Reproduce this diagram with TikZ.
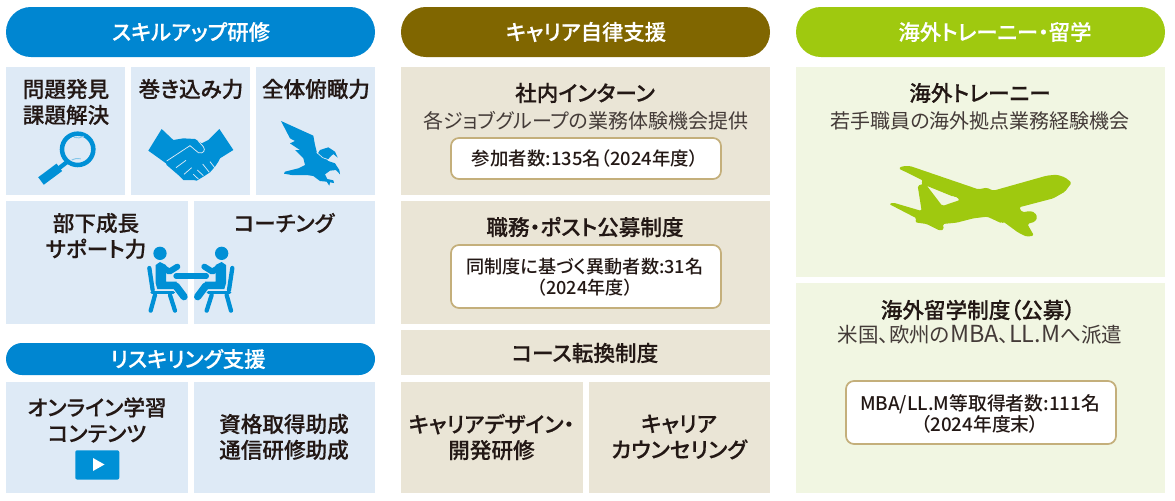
\documentclass[tikz,border=0pt]{standalone}
\usepackage{fontspec}
\setmainfont{Noto Sans CJK JP}[RawFeature=+palt]
\newfontfamily\jpmed{Noto Sans CJK JP Medium}[RawFeature=+palt]
\newfontfamily\jpstrong{Noto Sans CJK JP Medium}[RawFeature=+palt,FakeBold=0.25]
\definecolor{bluepill}{HTML}{0086D1}
\definecolor{bluebg}{HTML}{DEEAF6}
\definecolor{brownpill}{HTML}{806600}
\definecolor{tanbg}{HTML}{EAE5D6}
\definecolor{greenpill}{HTML}{9FC90F}
\definecolor{greenbg}{HTML}{F1F6E2}
\definecolor{frame}{HTML}{C4AF7B}
\definecolor{ink}{HTML}{231815}
\definecolor{iconblue}{HTML}{0090D6}
\tikzset{
  panel/.style={rectangle,inner sep=0pt,outer sep=0pt,fill=#1},
  pill/.style={rectangle,inner sep=0pt,outer sep=0pt},
  countbox/.style={rectangle,rounded corners=6pt,inner sep=0pt,outer sep=0pt,fill=white,draw=frame,line width=1.3pt},
  headtext/.style={text=white,font=\fontsize{16}{19}\jpstrong,inner sep=0pt},
  title/.style={text=ink,align=center,inner sep=0pt,font=\fontsize{16.2}{19.4}\jpstrong},
  sub/.style={text=ink!85,align=center,inner sep=0pt,font=\fontsize{15}{19}\selectfont},
  count/.style={text=ink,align=center,inner sep=0pt,font=\fontsize{#1}{16}\jpmed},
  count/.default=13.6,
}
\newcommand\panelbox[6]{%
  \pgfmathsetmacro\pw{(#5-#3)*.75}\pgfmathsetmacro\ph{(#6-#4)*.75}%
  \node[#1,anchor=north west,minimum width=\pw pt,minimum height=\ph pt] (#2) at (#3,#4) {};}
\begin{document}
\begin{tikzpicture}[x=.75pt,y=-.75pt]
\useasboundingbox (0,0) rectangle (1175,500);
\fill[white] (0,0) rectangle (1175,500);
% headers
\panelbox{pill,fill=bluepill,rounded corners=18.7pt}{hA}{6}{7}{375}{57}
\panelbox{pill,fill=brownpill,rounded corners=18.7pt}{hB}{401}{7}{770}{57}
\panelbox{pill,fill=greenpill,rounded corners=18.7pt}{hC}{796}{7}{1165}{57}
\panelbox{pill,fill=bluepill,rounded corners=12pt}{hD}{6}{343}{375}{375}
\node[headtext] (tA) at (191,32) {スキルアップ研修};
\node[headtext] (tB) at (586,32) {キャリア自律支援};
\node[headtext] (tC) at (995,32) {海外トレーニー・留学};
\node[headtext] (tD) at (188,359) {リスキリング支援};
% left panels
\panelbox{panel=bluebg}{a1}{6}{67}{125}{195}
\panelbox{panel=bluebg}{a2}{131}{67}{250}{195}
\panelbox{panel=bluebg}{a3}{256}{67}{375}{195}
\panelbox{panel=bluebg}{a4}{6}{201}{188}{324}
\panelbox{panel=bluebg}{a5}{194}{201}{375}{324}
\panelbox{panel=bluebg}{a6}{6}{382}{188}{493}
\panelbox{panel=bluebg}{a7}{194}{382}{375}{493}
% middle panels
\panelbox{panel=tanbg}{b1}{401}{67}{770}{195}
\panelbox{panel=tanbg}{b2}{401}{201}{770}{324}
\panelbox{panel=tanbg}{b3}{401}{330}{770}{375}
\panelbox{panel=tanbg}{b4}{401}{382}{583}{493}
\panelbox{panel=tanbg}{b5}{589}{382}{770}{493}
% right panels
\panelbox{panel=greenbg}{c1}{796}{67}{1165}{277}
\panelbox{panel=greenbg}{c2}{796}{283}{1165}{493}
% count boxes
\panelbox{countbox}{k1}{451}{138}{721}{179}
\panelbox{countbox}{k2}{451}{245}{721}{308}
\panelbox{countbox}{k3}{846}{381}{1116}{444}
% left text
\node[title] (n1) at (66,102) {問題発見\\課題解決};
\node[title] (n2) at (191,89) {巻き込み力};
\node[title] (n3) at (316,89) {全体俯瞰力};
\node[title] (n4) at (96,236) {部下成長\\サポート力};
\node[title] (n5) at (284,223) {コーチング};
\node[title] (n6) at (97,420) {オンライン学習\\コンテンツ};
\node[title] (n7) at (284,437) {資格取得助成\\通信研修助成};
% middle text
\node[title] (m1) at (585,93) {社内インターン};
\node[sub] (m2) at (586,121) {各ジョブグループの業務体験機会提供};
\node[count=13.8] (m3) at (585,159) {参加者数:135名（2024年度）};
\node[title] (m4) at (585,227) {職務・ポスト公募制度};
\node[count] (m5) at (585,277) {同制度に基づく異動者数:31名\\（2024年度）};
\node[title] (m6) at (585,353) {コース転換制度};
\node[title] (m7) at (491.5,437) {キャリアデザイン・\\開発研修};
\node[title] (m8) at (679,437) {キャリア\\カウンセリング};
% right text
\node[title] (r1) at (980,93) {海外トレーニー};
\node[sub] (r2) at (980,121) {若手職員の海外拠点業務経験機会};
\node[title] (r3) at (978,310) {海外留学制度（公募）};
\node[sub,font=\fontsize{15.4}{19}\selectfont] (r4) at (980,335) {米国、欧州の{\fontsize{17.6}{19}\selectfont MBA}、{\fontsize{17.6}{19}\selectfont LL.M}へ派遣};
\node[count=14.1] (r5) at (980,414) {MBA/LL.M等取得者数:111名\\（2024年度末）};
% play button
\node[rectangle,rounded corners=1.5pt,fill=iconblue,inner sep=0pt,anchor=north west,minimum width=33pt,minimum height=22pt] (play) at (75,450) {};
\fill[white] (93,458) -- (93,471) -- (104.5,464.5) -- cycle;
% magnifier
\begin{scope}[shift={(0,60)},x=.25pt,y=-.25pt]
\draw[iconblue,line width=3.4pt] (233,268) circle (47);
\draw[bluebg!60!iconblue,line width=.7pt] (222,232) arc (108:60:36);
\draw[bluebg!60!iconblue,line width=.7pt] (215,300) arc (240:285:36);
\draw[iconblue,line width=3.2pt] (205,303) -- (170,330);
\draw[iconblue,line width=7pt] (178,322) -- (123,363);
\end{scope}
% handshake
\begin{scope}[shift={(140,115)},x=.25pt,y=-.25pt]
\fill[iconblue] (65,42) -- (100,75) -- (130,70) -- (165,72) -- (185,85) -- (205,75) -- (238,42) -- (280,105) -- (240,130) -- (235,140) -- (225,155) -- (210,172) -- (190,185) -- (170,197) -- (160,195) -- (130,195) -- (115,180) -- (80,150) -- (78,145) -- (25,107) -- cycle;
\draw[bluebg,line width=.55pt] (80,138) -- (150,92) -- (175,113) .. controls (190,118) and (198,105) .. (190,95) -- (175,78);
\draw[bluebg,line width=.55pt] (108,158) -- (138,136);
\draw[bluebg,line width=.55pt] (132,178) -- (155,158);
\draw[bluebg,line width=.55pt] (160,178) -- (175,192) (172,165) -- (190,182) (188,147) -- (208,172) (210,140) -- (224,158);
\end{scope}
% eagle
\begin{scope}[shift={(270,115)},x=.25pt,y=-.25pt]
\fill[iconblue] (33,18) -- (130,62) -- (135,90) -- (142,118) -- (150,105) -- (175,97) -- (195,110) -- (203,128) -- (190,117) -- (178,128) -- (172,137) -- (195,145) -- (208,165) -- (210,178) -- (198,165) -- (180,167) -- (165,178) -- (172,192) -- (190,196) -- (192,204) -- (180,202) -- (178,212) -- (170,200) -- (150,198) -- (130,183) -- (110,180) -- (65,180) -- (42,176) -- (45,170) -- (85,160) -- (105,150) -- (100,130) -- (75,105) -- (90,105) -- (60,85) -- (75,78) -- (60,70) -- cycle;
\draw[bluebg,line width=.5pt] (140,112) -- (158,128) -- (178,135);
\end{scope}
% people
\begin{scope}[shift={(140,240)},x=.25pt,y=-.25pt]
\foreach \mx/\ox in {1/0,-1/305}{
  \begin{scope}[shift={(\ox,0)},xscale=\mx]
  \fill[iconblue] (60,40) circle (20);
  \fill[iconblue] (47,75) -- (60,66) -- (78,75) -- (78,125) -- (110,125) -- (110,147) -- (52,147) -- (47,130) -- cycle;
  \draw[iconblue,line width=4.5pt,line cap=round,line join=round] (65,80) -- (88,95) -- (112,80);
  \draw[iconblue,line width=5.5pt,line cap=round] (108,138) -- (132,170);
  \draw[iconblue,line width=3.2pt,line cap=round] (28,84) -- (38,150);
  \draw[iconblue,line width=2.6pt,line cap=round] (36,158) -- (100,158);
  \draw[iconblue,line width=3.2pt,line cap=round] (45,165) -- (32,212);
  \draw[iconblue,line width=3.2pt,line cap=round] (90,165) -- (105,212);
  \end{scope}
}
\draw[iconblue,line width=4pt,line cap=round] (108,108) -- (199,108);
\end{scope}
% plane
\begin{scope}[shift={(790,140)},x=.25pt,y=-.25pt]
\fill[greenpill,rounded corners=1.2pt] (845,128) -- (825,112) -- (800,104) -- (770,107) -- (610,152) -- (590,143) -- (565,148) -- (360,78) -- (340,78) -- (325,85) -- (400,122) -- (392,130) -- (490,170) -- (495,168) -- (510,180) -- (457,198) -- (405,130) -- (383,137) -- (395,213) -- (310,188) -- (297,192) -- (380,235) -- (375,247) -- (410,252) -- (450,272) -- (462,268) -- (458,252) -- (500,248) -- (550,235) -- (592,230) -- (635,250) -- (640,245) -- (685,278) -- (710,290) -- (732,287) -- (712,252) -- (735,245) -- (742,232) -- (735,218) -- (720,213) -- (697,217) -- (687,202) -- (790,175) -- (825,155) -- cycle;
\end{scope}
\end{tikzpicture}
\end{document}
